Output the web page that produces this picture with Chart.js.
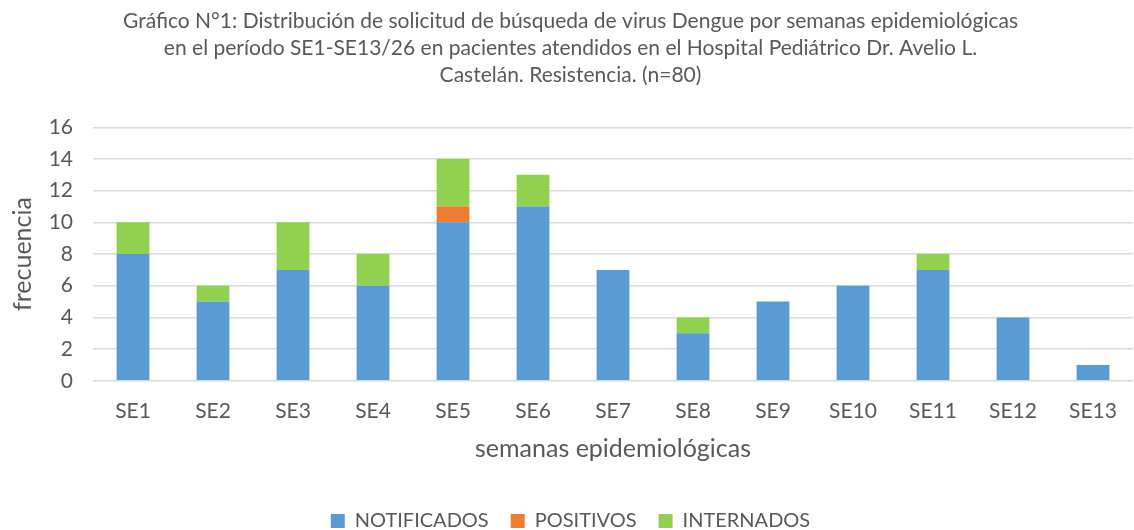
<!DOCTYPE html>
<html>
<head>
<meta charset="utf-8">
<script src="https://cdn.jsdelivr.net/npm/chart.js@4"></script>
<style>
  html, body { margin: 0; padding: 0; background: #fff; }
  #wrap { width: 1134px; height: 530px; }
</style>
</head>
<body>
<div id="wrap"><canvas id="chart"></canvas></div>
<script>
// Weeks and counts
const SEMANAS = ["SE1", "SE2", "SE3", "SE4", "SE5", "SE6", "SE7", "SE8", "SE9", "SE10", "SE11", "SE12", "SE13"];
const NOTIFICADOS = [8, 5, 7, 6, 10, 11, 7, 3, 5, 6, 7, 4, 1];
const POSITIVOS = [0, 0, 0, 0, 1, 0, 0, 0, 0, 0, 0, 0, 0];
const INTERNADOS = [2, 1, 3, 2, 3, 2, 0, 1, 0, 0, 1, 0, 0];
const Y_TICKS = [0, 2, 4, 6, 8, 10, 12, 14, 16];

const TEXT = '#595959';
const FONT = 'Lato, "Noto Sans", sans-serif';

const ctx = document.getElementById('chart').getContext('2d');

new Chart(ctx, {
    type: 'bar',
    data: {
        labels: SEMANAS,
        datasets: [
            { label: 'NOTIFICADOS', data: NOTIFICADOS, backgroundColor: '#5B9BD5' },
            { label: 'POSITIVOS', data: POSITIVOS, backgroundColor: '#ED7D31' },
            { label: 'INTERNADOS', data: INTERNADOS, backgroundColor: '#92D050' }
        ]
    },
    options: {
        responsive: true,
        maintainAspectRatio: false,
        animation: false,
        layout: { padding: { left: 8, right: 1, top: 8, bottom: -11 } },
        datasets: {
            bar: { categoryPercentage: 1, barPercentage: 0.41, borderWidth: 0 }
        },
        scales: {
            x: {
                stacked: true,
                grid: { display: false },
                border: { display: false },
                ticks: { color: TEXT, font: { family: FONT, size: 21 }, padding: 10 },
                title: {
                    display: true,
                    text: 'semanas epidemiológicas',
                    color: TEXT,
                    font: { family: FONT, size: 25 },
                    padding: { top: 0, bottom: 25 }
                }
            },
            y: {
                stacked: true,
                min: 0,
                max: 16,
                afterBuildTicks: axis => { axis.ticks = Y_TICKS.map(v => ({ value: v })); },
                grid: { color: '#d9d9d9', lineWidth: 1.5, drawTicks: false },
                border: { display: false },
                ticks: { color: TEXT, font: { family: FONT, size: 21 }, padding: 20 },
                title: {
                    display: true,
                    text: 'frecuencia',
                    color: TEXT,
                    font: { family: FONT, size: 25 },
                    padding: { top: 0, bottom: 4 }
                },
                afterFit: axis => { axis.width = 85; }
            }
        },
        plugins: {
            title: {
                display: true,
                text: [
                    'Gráfico N°1: Distribución de solicitud de búsqueda de virus Dengue por semanas epidemiológicas',
                    'en el período SE1-SE13/26 en pacientes atendidos en el Hospital Pediátrico Dr. Avelio L.',
                    'Castelán. Resistencia. (n=80)'
                ],
                color: TEXT,
                font: { family: FONT, size: 21, weight: 'normal', lineHeight: 1.29 },
                padding: { top: 0, bottom: 38 }
            },
            legend: {
                position: 'bottom',
                labels: {
                    color: TEXT,
                    font: { family: FONT, size: 20 },
                    boxWidth: 14,
                    boxHeight: 14,
                    padding: 22
                }
            },
            tooltip: { enabled: false }
        }
    }
});
</script>
</body>
</html>
